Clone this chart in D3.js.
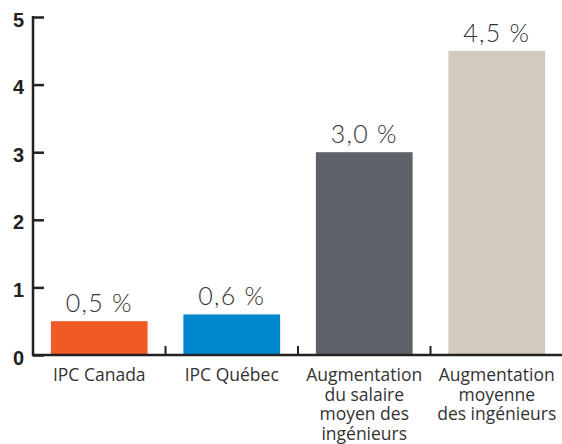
<!DOCTYPE html>
<meta charset="utf-8">
<style>
  body { margin: 0; background: #fff; }
  .val { font-family: Lato, sans-serif; font-weight: 300; font-size: 25px; letter-spacing: 1.2px; fill: #333; }
  .cat { font-family: "Open Sans", sans-serif; font-size: 17.5px; fill: #333; }
  .ytick { font-family: "Liberation Sans", Arial, sans-serif; font-weight: bold; font-size: 20px; fill: #222; }
</style>
<body>
<svg id="chart" width="562" height="444"></svg>
<script src="https://cdn.jsdelivr.net/npm/d3@7"></script>
<script>
  var categories = ["IPC Canada", "IPC Québec", "Augmentation du salaire moyen des ingénieurs", "Augmentation moyenne des ingénieurs"];
  var catLines = [["IPC Canada"], ["IPC Québec"], ["Augmentation", "du salaire", "moyen des", "ingénieurs"], ["Augmentation", "moyenne", "des ingénieurs"]];
  var values = [0.5, 0.6, 3.0, 4.5];
  var valueLabels = ["0,5 %", "0,6 %", "3,0 %", "4,5 %"];
  var colors = ["#f15a24", "#0088ce", "#5e6168", "#d3cabe"];
  var yTicks = [0, 1, 2, 3, 4, 5];

  var svg = d3.select("#chart");
  var x0 = 33, x1 = 563, yTop = 17, yBase = 355;

  var x = d3.scaleBand().domain(categories).range([x0, x1]).paddingInner(0.27).paddingOuter(0.135);
  var y = d3.scaleLinear().domain([0, 5]).range([yBase, yTop]);

  // bars
  svg.selectAll("rect.bar").data(values).enter().append("rect")
    .attr("class", "bar")
    .attr("x", function(d, i) { return x(categories[i]); })
    .attr("y", function(d) { return y(d); })
    .attr("width", x.bandwidth())
    .attr("height", function(d) { return y(0) - y(d); })
    .attr("fill", function(d, i) { return colors[i]; });

  // value labels
  svg.selectAll("text.val").data(values).enter().append("text")
    .attr("class", "val")
    .attr("text-anchor", "middle")
    .attr("x", function(d, i) { return x(categories[i]) + x.bandwidth() / 2; })
    .attr("y", function(d) { return y(d) - 9; })
    .text(function(d, i) { return valueLabels[i]; });

  // y axis
  var yAxis = svg.append("g").attr("transform", "translate(" + x0 + ",0)")
    .call(d3.axisRight(y).tickValues(yTicks).tickSize(11).tickFormat(""));
  yAxis.select(".domain").remove();
  yAxis.selectAll("line").attr("stroke", "#222").attr("stroke-width", 2.5);
  svg.append("line").attr("x1", x0).attr("x2", x0).attr("y1", yTop - 1).attr("y2", yBase + 1)
    .attr("stroke", "#222").attr("stroke-width", 2.5);
  svg.selectAll("text.ytick").data(yTicks).enter().append("text")
    .attr("class", "ytick")
    .attr("text-anchor", "end")
    .attr("x", 24)
    .attr("y", function(d) { return y(d) + 9.5; })
    .text(function(d) { return d; });

  // x axis line
  svg.append("line").attr("x1", x0 - 1).attr("x2", 562).attr("y1", yBase).attr("y2", yBase)
    .attr("stroke", "#222").attr("stroke-width", 2.5);

  // separators between bars
  var step = x.step();
  svg.selectAll("line.sep").data(categories.slice(1)).enter().append("line")
    .attr("class", "sep")
    .attr("x1", function(d) { return x(d) - (step - x.bandwidth()) / 2; })
    .attr("x2", function(d) { return x(d) - (step - x.bandwidth()) / 2; })
    .attr("y1", yBase).attr("y2", yBase - 9)
    .attr("stroke", "#222").attr("stroke-width", 2);

  // category labels
  var cat = svg.selectAll("text.cat").data(catLines).enter().append("text")
    .attr("class", "cat")
    .attr("text-anchor", "middle")
    .attr("x", function(d, i) { return x(categories[i]) + x.bandwidth() / 2; })
    .attr("y", 381);
  cat.selectAll("tspan").data(function(d) { return d; }).enter().append("tspan")
    .attr("x", function() { return d3.select(this.parentNode).attr("x"); })
    .attr("dy", function(d, i) { return i === 0 ? 0 : 19.5; })
    .text(function(d) { return d; });
</script>
</body>
